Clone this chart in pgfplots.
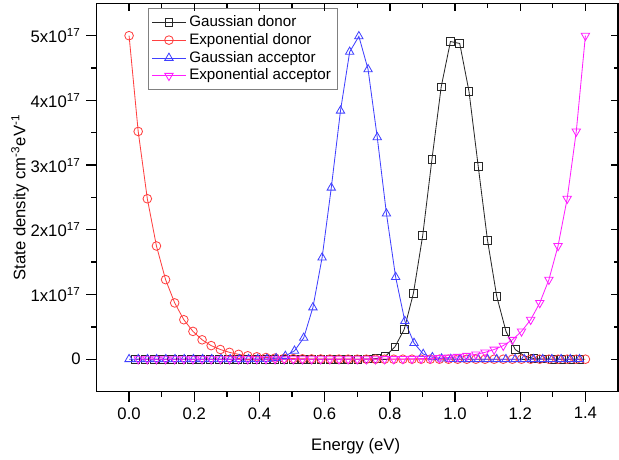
\documentclass[border=0pt]{standalone}
\usepackage{pgfplots}
\pgfplotsset{compat=1.18}
\usepackage{fontspec}
\setmainfont{Liberation Sans}
\definecolor{cblk}{RGB}{40,40,40}
\definecolor{cred}{RGB}{255,64,64}
\definecolor{cblu}{RGB}{64,64,255}
\definecolor{cmag}{RGB}{255,30,255}
\begin{document}
\begin{tikzpicture}
\useasboundingbox (-57.9pt,-40.8pt) rectangle (313.6pt,235.0pt);
\pgfplotsset{
  common/.style={
    width=313pt, height=233pt, scale only axis,
    at={(0,0)}, anchor=south west,
    xmin=-0.1, xmax=1.5, ymin=-0.5, ymax=5.5,
    axis line style={line width=0.8pt},
    every tick/.style={line width=0.8pt, black},
  },
  /pgf/number format/assume math mode=true,
}
\begin{axis}[common,
  xtick={0,0.2,...,1.4}, minor x tick num=1,
  ytick={0,1,2,3,4,5}, minor y tick num=1,
  yticklabels={0,1x10\textsuperscript{17},2x10\textsuperscript{17},3x10\textsuperscript{17},4x10\textsuperscript{17},5x10\textsuperscript{17}},
  xticklabel style={/pgf/number format/.cd, fixed, fixed zerofill, precision=1},
  xtick pos=left, ytick pos=left, tick align=outside,
  major tick length=6pt, minor tick length=3pt,
  xlabel={Energy (eV)}, ylabel={State density cm\textsuperscript{-3}eV\textsuperscript{-1}},
  xlabel style={at={(axis description cs:0.497,-0.1415)}, anchor=center},
  ylabel style={at={(axis description cs:-0.1467,0.5)}, anchor=center},
  legend style={at={(0.099,0.987)}, anchor=north west, draw=gray, line width=0.6pt,
    font=\fontsize{9.1}{10}\selectfont, row sep=-1.4pt, inner sep=2pt},
  legend cell align=left,
  legend image code/.code={\draw[mark repeat=2,mark phase=2] plot coordinates {(0cm,0cm)(0.35cm,0cm)(0.7cm,0cm)};},
  every axis plot/.append style={line width=0.5pt},
]
\addplot[cblk, mark=square, mark size=2.3pt, mark options={line width=0.5pt}] table {
x y
0.0204 0
0.0488 0
0.0772 0
0.1056 0
0.1340 0
0.1624 0
0.1908 0
0.2192 0
0.2476 0
0.2760 0
0.3044 0
0.3328 0
0.3612 0
0.3896 0
0.4180 0
0.4464 0
0.4748 0
0.5032 0
0.5316 0
0.5600 0
0.5884 0
0.6168 0
0.6452 0
0.6736 0
0.7020 0
0.7304 0.002
0.7588 0.01
0.7872 0.05
0.8156 0.19
0.8440 0.46
0.8724 1.02
0.9008 1.91
0.9292 3.09
0.9576 4.21
0.9860 4.91
1.0144 4.88
1.0428 4.14
1.0712 2.98
1.0996 1.84
1.1280 0.97
1.1564 0.43
1.1848 0.15
1.2132 0.05
1.2416 0.01
1.2700 0.002
1.2984 0
1.3268 0
1.3552 0
1.3836 0
};
\addlegendentry{Gaussian donor}
\addplot[cred, mark=o, mark size=2.6pt, mark options={line width=0.5pt}] table {
x y
0.000 5.0
0.028 3.52
0.056 2.48
0.084 1.75
0.112 1.23
0.140 0.87
0.168 0.61
0.196 0.43
0.224 0.30
0.252 0.21
0.280 0.15
0.308 0.106
0.336 0.075
0.364 0.053
0.392 0.037
0.420 0.026
0.448 0.018
0.476 0.013
0.504 0.009
0.532 0.006
0.560 0.004
0.588 0.003
0.616 0.002
0.644 0.0015
0.672 0.001
0.700 0
0.728 0
0.756 0
0.784 0
0.812 0
0.840 0
0.868 0
0.896 0
0.924 0
0.952 0
0.980 0
1.008 0
1.036 0
1.064 0
1.092 0
1.120 0
1.148 0
1.176 0
1.204 0
1.232 0
1.260 0
1.288 0
1.316 0
1.344 0
1.372 0
1.400 0
};
\addlegendentry{Exponential donor}
\addplot[cblu, mark=triangle, mark size=2.9pt, mark options={line width=0.5pt}] table {
x y
0.0000 0
0.0282 0
0.0564 0
0.0846 0
0.1128 0
0.1410 0
0.1692 0
0.1974 0
0.2256 0
0.2538 0
0.2820 0
0.3102 0
0.3384 0
0.3666 0
0.3948 0.001
0.4230 0.004
0.4512 0.015
0.4794 0.05
0.5076 0.13
0.5358 0.33
0.5640 0.80
0.5922 1.57
0.6204 2.65
0.6486 3.84
0.6768 4.75
0.7050 4.99
0.7332 4.48
0.7614 3.43
0.7896 2.25
0.8178 1.27
0.8460 0.59
0.8742 0.25
0.9024 0.08
0.9306 0.03
0.9588 0.01
0.9870 0.002
1.0152 0
1.0434 0
1.0716 0
1.0998 0
1.1280 0
1.1562 0
1.1844 0
1.2126 0
1.2408 0
1.2690 0
1.2972 0
1.3254 0
1.3536 0
1.3818 0
};
\addlegendentry{Gaussian acceptor}
\addplot[cmag, mark=triangle, mark size=2.9pt, mark options={rotate=180, line width=0.5pt}] table {
x y
0.028 0
0.056 0
0.084 0
0.112 0
0.140 0
0.168 0
0.196 0
0.224 0
0.252 0
0.280 0
0.308 0
0.336 0
0.364 0
0.392 0
0.420 0
0.448 0
0.476 0
0.504 0
0.532 0
0.560 0
0.588 0
0.616 0
0.644 0
0.672 0
0.700 0
0.728 0.001
0.756 0.0015
0.784 0.002
0.812 0.003
0.840 0.004
0.868 0.006
0.896 0.009
0.924 0.013
0.952 0.018
0.980 0.026
1.008 0.037
1.036 0.053
1.064 0.075
1.092 0.106
1.120 0.15
1.148 0.21
1.176 0.30
1.204 0.43
1.232 0.61
1.260 0.87
1.288 1.23
1.316 1.75
1.344 2.48
1.372 3.52
1.400 5.0
};
\addlegendentry{Exponential acceptor}
\end{axis}
\begin{axis}[common,
  xtick={0,0.2,...,1.4}, minor x tick num=1,
  ytick={0,1,2,3,4,5}, minor y tick num=1,
  xticklabels={}, yticklabels={},
  xtick pos=right, ytick pos=right, tick align=inside,
  major tick length=4.5pt, minor tick length=2.5pt,
]
\end{axis}
\end{tikzpicture}
\end{document}
